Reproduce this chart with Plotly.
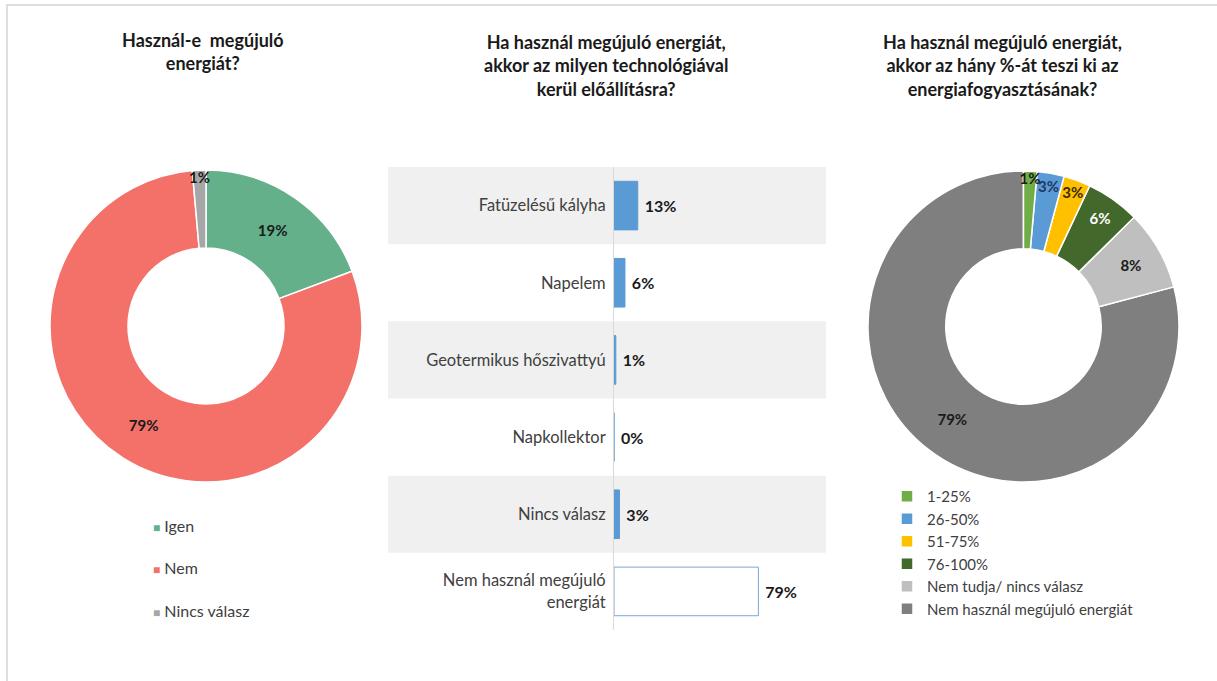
import plotly.graph_objects as go

# Adatok
use_labels = ['Igen', 'Nem', 'Nincs válasz']
use_values = [19.3, 79.3, 1.4]
use_colors = ['#63B08A', '#F4716A', '#A6A6A6']

tech_labels = ['Fatüzelésű kályha', 'Napelem', 'Geotermikus hőszivattyú',
               'Napkollektor', 'Nincs válasz', 'Nem használ megújuló<br>energiát']
tech_values = [13, 6, 1, 0, 3, 79]

share_labels = ['1-25%', '26-50%', '51-75%', '76-100%',
                'Nem tudja/ nincs válasz', 'Nem használ megújuló energiát']
share_values = [1.4, 2.8, 2.8, 5.6, 8.3, 79.1]
share_colors = ['#70AD47', '#5B9BD5', '#FFC000', '#43682B', '#BFBFBF', '#7F7F7F']
share_text_colors = ['#1a1a1a', '#1F3864', '#3a2a00', '#FFFFFF', '#1a1a1a', '#1a1a1a']

W, H = 1217, 681
FONT = 'Lato'


def px(x):
    return x / W


def py(y):
    return 1 - y / H


fig = go.Figure()

fig.add_trace(go.Pie(
    labels=use_labels, values=use_values, hole=0.5, sort=False,
    direction='clockwise', rotation=0,
    marker=dict(colors=use_colors, line=dict(color='white', width=1.5)),
    texttemplate='%{percent:.0%}', textposition='inside',
    insidetextorientation='horizontal',
    textfont=dict(size=15, color='#1a1a1a', family=FONT, weight='bold'),
    domain=dict(x=[px(50), px(362)], y=[py(482), py(170)]),
    showlegend=False, hoverinfo='label+percent'
))

fig.add_trace(go.Bar(
    y=tech_labels, x=tech_values, orientation='h',
    marker=dict(color=['#5B9BD5'] * 5 + ['white'],
                line=dict(color=['#5B9BD5'] * 5 + ['#7AA7D2'], width=1)),
    texttemplate='\u00a0%{x}%', textposition='outside', cliponaxis=False,
    textfont=dict(size=16, color='#1a1a1a', family=FONT, weight='bold'),
    showlegend=False, width=0.63
))

# a kis szeletek címkéi ne takarodjanak el: fordított sorrendben rajzolva
# (counterclockwise módban az első szelet a rotation szögnél végződik)
share_rot = 360 * (sum(share_values) - share_values[-1]) / sum(share_values)

fig.add_trace(go.Pie(
    labels=share_labels[::-1], values=share_values[::-1], hole=0.5, sort=False,
    direction='counterclockwise', rotation=share_rot,
    marker=dict(colors=share_colors[::-1], line=dict(color='white', width=1.5)),
    texttemplate='%{percent:.0%}', textposition='inside',
    insidetextorientation='horizontal',
    textfont=dict(size=15, color=share_text_colors[::-1], family=FONT, weight='bold'),
    domain=dict(x=[px(868), px(1179)], y=[py(482), py(171)]),
    hoverinfo='label+percent'
))

# háttérsávok a sávdiagramhoz
shapes = []
for i in (0, 2, 4):
    shapes.append(dict(type='rect', xref='paper', yref='y',
                       x0=px(388), x1=px(826), y0=i - 0.5, y1=i + 0.5,
                       fillcolor='#F0F0F0', line=dict(width=0), layer='below'))
# keret
shapes.append(dict(type='rect', xref='paper', yref='paper',
                   x0=px(7), x1=1.02, y0=-0.02, y1=py(5),
                   line=dict(color='#DEDEDE', width=2), fillcolor='rgba(0,0,0,0)'))

annotations = [
    dict(text='<b>Használ-e\u00a0 megújuló<br>energiát?</b>', x=px(203), y=py(27),
         xanchor='center', yanchor='top'),
    dict(text='<b>Ha használ megújuló energiát,<br>akkor az milyen technológiával<br>kerül előállításra?</b>',
         x=px(606), y=py(29), xanchor='center', yanchor='top'),
    dict(text='<b>Ha használ megújuló energiát,<br>akkor az hány %-át teszi ki az<br>energiafogyasztásának?</b>',
         x=px(1002), y=py(29), xanchor='center', yanchor='top'),
]
for a in annotations:
    a.update(xref='paper', yref='paper', showarrow=False, align='center',
             font=dict(size=18, color='#1a1a1a', family=FONT))

# bal oldali jelmagyarázat
for lab, col, yy in zip(use_labels, use_colors, [525, 567, 610]):
    annotations.append(dict(
        text=f'<span style="color:{col};font-size:12px">■</span> {lab}',
        x=px(151), y=py(yy), xref='paper', yref='paper', xanchor='left',
        yanchor='middle', showarrow=False,
        font=dict(size=16, color='#404040', family=FONT)))

fig.update_layout(
    width=W, height=H,
    margin=dict(l=0, r=0, t=0, b=0),
    paper_bgcolor='white', plot_bgcolor='rgba(0,0,0,0)',
    font=dict(family=FONT, size=15, color='#404040'),
    xaxis=dict(domain=[px(614), px(826)], range=[0, 116], visible=False),
    yaxis=dict(domain=[py(630), py(167)], autorange='reversed',
               showline=True, linecolor='#D9D9D9', linewidth=1,
               showgrid=False, ticks='', ticklabelstandoff=4,
               tickfont=dict(size=16.5, color='#404040', family=FONT)),
    uniformtext=dict(minsize=15, mode='show'),
    legend=dict(x=px(887), y=py(480), xanchor='left', yanchor='top',
                font=dict(size=15, color='#404040', family=FONT),
                bgcolor='rgba(0,0,0,0)', tracegroupgap=0,
                traceorder='reversed'),
    shapes=shapes, annotations=annotations,
    showlegend=True,
)

fig.write_html('out.html', config={'displayModeBar': False},
               post_script="document.body.style.margin='0';")
